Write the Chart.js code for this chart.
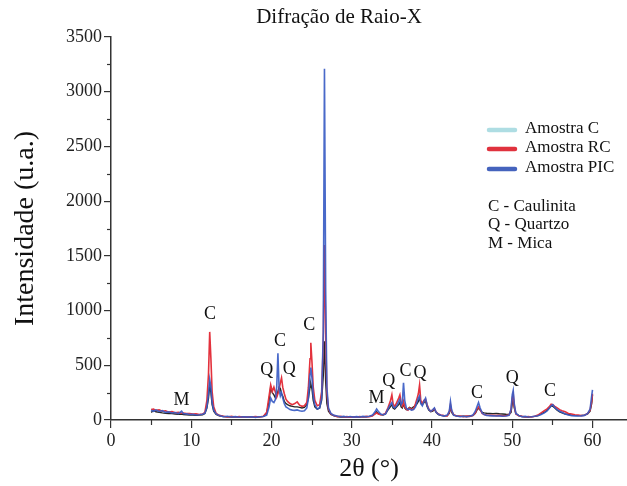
<!DOCTYPE html>
<html><head><meta charset="utf-8">
<script src="https://cdn.jsdelivr.net/npm/chart.js@4/dist/chart.umd.min.js"></script>
<style>html,body{margin:0;padding:0;background:#fff}canvas{display:block}</style>
</head><body>
<canvas id="c" width="627" height="486" style="width:627px;height:486px"></canvas>
<script>
const chartTitle = 'Difração de Raio-X';
const xTitle = '2θ (°)';
const yTitle = 'Intensidade (u.a.)';
const seriesNames = ['Amostra C', 'Amostra RC', 'Amostra PIC'];
const keyLines = ['C - Caulinita', 'Q - Quartzo', 'M - Mica'];

const angles = [
 5.0,5.3,5.6,6.0,6.4,6.8,7.2,7.6,8.0,8.4,8.8,9.0,9.4,9.8,10.2,10.6,11.0,11.4,11.7,11.95,12.15,12.3,12.45,12.6,12.8,13.1,13.5,
 14.0,14.5,15.0,15.5,16.0,16.5,17.0,17.5,18.0,18.5,19.0,
 19.4,19.7,19.9,20.1,20.3,20.5,20.65,20.8,20.95,21.1,21.25,21.4,21.6,21.8,22.0,22.3,22.6,22.9,23.2,23.5,23.8,24.1,24.4,24.6,24.8,24.9,25.05,25.2,25.4,25.7,26.0,26.25,26.45,26.6,26.75,26.9,27.1,27.4,27.8,
 28.2,28.6,29.0,29.4,29.8,30.2,30.6,31.0,31.4,31.8,32.2,32.6,32.9,33.1,33.3,33.6,33.9,
 34.2,34.5,34.8,35.0,35.15,35.35,35.6,35.85,36.0,36.15,36.3,36.45,36.6,36.8,37.0,37.2,37.45,37.7,37.95,38.15,38.3,38.45,38.6,38.8,39.0,39.2,39.4,39.6,39.85,40.1,40.3,40.5,40.8,41.1,41.5,
 41.9,42.15,42.3,42.45,42.7,43.1,43.5,43.9,44.3,44.7,45.1,45.4,45.6,45.8,46.0,46.25,46.5,46.8,47.2,47.6,48.0,48.4,48.8,49.2,49.6,49.85,50.0,50.12,50.25,50.45,50.8,
 51.2,51.6,52.0,52.4,52.8,53.2,53.6,54.0,54.3,54.6,54.85,55.05,55.3,55.6,55.9,56.2,56.6,57.0,57.4,57.8,58.2,58.6,59.0,59.4,59.7,59.9,60.0
];
const amostraC = [
 70,85,75,70,65,62,60,58,55,52,55,50,48,46,45,44,45,48,60,110,200,320,250,140,80,50,38,
 32,30,28,30,27,29,26,28,27,29,33,
 60,180,300,250,230,200,220,260,300,290,240,220,170,150,140,130,125,120,120,115,110,115,140,200,300,330,280,180,120,100,110,180,400,720,350,150,80,50,38,
 32,28,30,26,29,27,30,28,31,29,33,40,60,75,60,50,45,
 55,90,120,140,110,100,120,140,160,120,110,150,110,95,100,115,105,120,130,150,170,200,160,140,160,170,120,90,75,80,100,70,50,42,38,
 40,60,120,70,45,38,33,35,32,36,40,60,90,110,90,70,65,62,60,58,60,57,55,52,50,70,150,200,110,60,40,
 32,30,28,31,33,40,55,70,85,110,130,125,110,90,75,65,55,50,45,42,40,42,45,55,80,150,230
];
const amostraRC = [
 95,100,88,92,80,84,72,76,66,70,62,64,58,60,54,56,50,54,70,180,420,805,560,260,120,60,42,
 35,28,33,26,31,25,30,27,32,28,35,
 70,220,320,260,300,250,210,240,280,340,385,300,240,190,170,150,140,150,165,135,125,130,160,300,560,705,520,300,180,130,140,260,700,1600,800,250,100,55,40,
 30,34,27,31,25,30,26,32,27,33,30,38,55,65,55,48,50,
 60,110,170,230,150,120,160,200,230,160,130,170,120,100,90,110,95,100,150,200,240,320,180,150,180,190,140,100,80,90,105,75,55,45,40,
 38,70,140,80,48,34,36,31,35,33,42,65,100,120,95,60,50,45,42,44,40,42,38,40,45,90,200,240,130,55,38,
 35,28,32,27,35,45,65,85,100,120,145,140,125,110,95,85,75,60,55,48,45,40,44,60,90,170,240
];
const amostraPIC = [
 90,80,92,78,85,70,74,64,68,58,80,60,56,50,52,46,48,52,62,120,240,370,300,160,90,55,40,
 30,34,27,31,25,30,26,29,24,30,32,
 45,120,200,170,160,190,300,610,280,220,250,200,150,120,110,95,90,88,92,85,80,85,110,200,420,480,380,220,140,100,110,200,800,3210,1200,300,110,60,42,
 36,30,33,28,32,26,31,27,33,30,35,45,75,100,80,55,48,
 55,100,140,160,120,110,130,170,190,140,160,340,180,110,95,100,90,95,120,170,200,220,150,130,170,200,130,95,80,95,110,72,52,44,36,
 45,80,170,90,42,36,30,34,30,35,45,80,120,160,110,65,50,42,40,38,36,38,34,36,42,100,230,270,150,60,42,
 30,33,27,30,34,38,50,65,80,105,130,140,115,95,80,70,55,45,40,38,36,38,42,60,100,220,275
];

const xTickValues = [0, 10, 20, 30, 40, 50, 60];
const xMinorValues = [5, 15, 25, 35, 45, 55];
const yTickValues = [0, 500, 1000, 1500, 2000, 2500, 3000, 3500];
const yMinorValues = [250, 750, 1250, 1750, 2250, 2750, 3250];

// peak annotations: [angle, intensity, letter]
const peakLabels = [
 [8.8, 183, 'M'], [12.35, 969, 'C'], [19.4, 457, 'Q'], [21.07, 716, 'C'], [22.2, 466, 'Q'],
 [24.7, 868, 'C'], [33.1, 201, 'M'], [34.6, 350, 'Q'], [36.7, 442, 'C'], [38.5, 430, 'Q'],
 [45.6, 247, 'C'], [50.0, 383, 'Q'], [54.7, 259, 'C']
];

const FONT = '"Liberation Serif", "Times New Roman", serif';
const lineColors = ['#262626', '#e3323d', 'rgba(58,92,196,0.92)'];
const legendColors = ['#aedde3', '#e0323e', '#4563bd'];

function pts(arr) { return angles.map((a, i) => ({ x: a, y: arr[i] })); }

const overlay = {
  id: 'overlay',
  afterDraw(chart) {
    const { ctx, scales: { x, y }, chartArea } = chart;
    ctx.save();
    ctx.strokeStyle = '#333'; ctx.lineWidth = 1.2;
    xMinorValues.forEach(v => {
      const px = Math.round(x.getPixelForValue(v)) + 0.5;
      ctx.beginPath(); ctx.moveTo(px, chartArea.bottom); ctx.lineTo(px, chartArea.bottom + 5); ctx.stroke();
    });
    yMinorValues.forEach(v => {
      const py = Math.round(y.getPixelForValue(v)) + 0.5;
      ctx.beginPath(); ctx.moveTo(chartArea.left, py); ctx.lineTo(chartArea.left - 4, py); ctx.stroke();
    });
    ctx.fillStyle = '#111';
    ctx.textAlign = 'center'; ctx.textBaseline = 'middle';
    ctx.font = '21px ' + FONT;
    ctx.fillText(chartTitle, 339, 17);
    ctx.font = '18px ' + FONT;
    peakLabels.forEach(([a, v, t]) => ctx.fillText(t, x.getPixelForValue(a), y.getPixelForValue(v)));
    // legend
    ctx.font = '17px ' + FONT; ctx.textAlign = 'left';
    const ly = [130, 149, 169];
    seriesNames.forEach((n, i) => {
      ctx.strokeStyle = legendColors[i]; ctx.lineWidth = 4.5; ctx.lineCap = 'round';
      ctx.beginPath(); ctx.moveTo(489, ly[i]); ctx.lineTo(515, ly[i]); ctx.stroke();
      ctx.fillText(n, 525, ly[i] - 1);
    });
    const ky = [207, 225, 244];
    keyLines.forEach((t, i) => ctx.fillText(t, 488, ky[i]));
    ctx.restore();
  }
};

new Chart(document.getElementById('c'), {
  type: 'line',
  data: {
    datasets: [
      { label: seriesNames[0], data: pts(amostraC), borderColor: lineColors[0], borderWidth: 1.4, order: 3 },
      { label: seriesNames[1], data: pts(amostraRC), borderColor: lineColors[1], borderWidth: 1.6, order: 2 },
      { label: seriesNames[2], data: pts(amostraPIC), borderColor: lineColors[2], borderWidth: 1.6, order: 1 }
    ]
  },
  options: {
    responsive: false, animation: false, devicePixelRatio: 1,
    layout: { padding: { top: 37, right: 0, left: 0, bottom: 0 } },
    elements: { point: { radius: 0 }, line: { tension: 0, fill: false } },
    plugins: { legend: { display: false }, title: { display: false }, tooltip: { enabled: false } },
    scales: {
      x: {
        type: 'linear', min: 0, max: 64.3,
        afterBuildTicks: s => { s.ticks = xTickValues.map(v => ({ value: v })); },
        afterFit: s => { s.height = 66; },
        ticks: { color: '#222', font: { family: FONT, size: 18 }, padding: 2, maxRotation: 0, autoSkip: false, callback: v => String(v) },
        grid: { drawOnChartArea: false, drawTicks: true, tickLength: 8, color: '#333', lineWidth: 1.2 },
        border: { display: true, color: '#333', width: 1.5 },
        title: { display: true, text: xTitle, color: '#111', font: { family: FONT, size: 26 }, padding: { top: 0, bottom: 1 } }
      },
      y: {
        type: 'linear', min: 0, max: 3500,
        afterBuildTicks: s => { s.ticks = yTickValues.map(v => ({ value: v })); },
        afterFit: s => { s.width = 111; },
        ticks: { color: '#222', font: { family: FONT, size: 18 }, padding: 2, autoSkip: false, callback: v => String(v) },
        grid: { drawOnChartArea: false, drawTicks: true, tickLength: 7, color: '#333', lineWidth: 1.2 },
        border: { display: true, color: '#333', width: 1.5 },
        title: { display: true, text: yTitle, color: '#111', font: { family: FONT, size: 28 }, padding: { top: 9, bottom: 0 } }
      }
    }
  },
  plugins: [overlay]
});
</script>
</body></html>
